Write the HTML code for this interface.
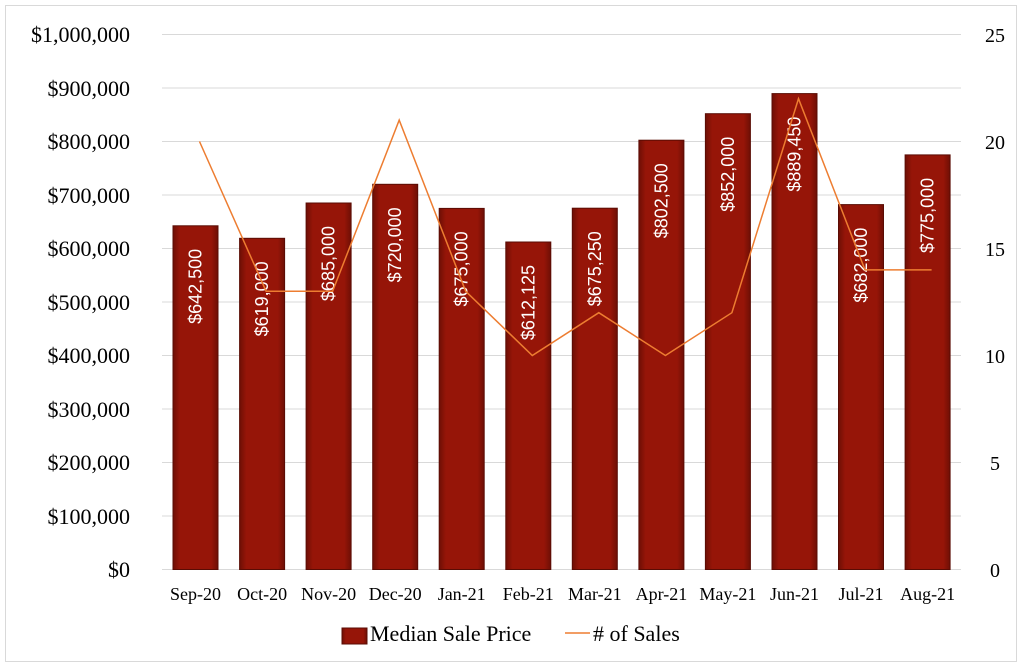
<!DOCTYPE html>
<html><head><meta charset="utf-8"><style>
html,body{margin:0;padding:0;background:#fff;width:1024px;height:670px;overflow:hidden}
</style></head><body>
<svg width="1024" height="670" xmlns="http://www.w3.org/2000/svg">
<defs>
<linearGradient id="bg" x1="0" y1="0" x2="1" y2="0">
<stop offset="0" stop-color="#6e0f05"/><stop offset="0.15" stop-color="#961508"/><stop offset="0.85" stop-color="#961508"/><stop offset="1" stop-color="#6e0f05"/>
</linearGradient>
</defs>
<rect x="5.5" y="5.5" width="1011" height="656" fill="#fff" stroke="#d9d9d9" stroke-width="1"/>
<g stroke="#d9d9d9" stroke-width="1">
<line x1="162" x2="961" y1="34.5" y2="34.5"/>
<line x1="162" x2="961" y1="88" y2="88"/>
<line x1="162" x2="961" y1="141.5" y2="141.5"/>
<line x1="162" x2="961" y1="195" y2="195"/>
<line x1="162" x2="961" y1="248.5" y2="248.5"/>
<line x1="162" x2="961" y1="302" y2="302"/>
<line x1="162" x2="961" y1="355.5" y2="355.5"/>
<line x1="162" x2="961" y1="409" y2="409"/>
<line x1="162" x2="961" y1="462.5" y2="462.5"/>
<line x1="162" x2="961" y1="516" y2="516"/>
<line x1="162" x2="961" y1="569.5" y2="569.5"/>
</g>
<g font-family="Liberation Serif, serif" font-size="22" fill="#000" text-anchor="end">
<text x="130" y="42">$1,000,000</text>
<text x="130" y="96">$900,000</text>
<text x="130" y="149">$800,000</text>
<text x="130" y="203">$700,000</text>
<text x="130" y="256">$600,000</text>
<text x="130" y="310">$500,000</text>
<text x="130" y="363">$400,000</text>
<text x="130" y="417">$300,000</text>
<text x="130" y="470">$200,000</text>
<text x="130" y="524">$100,000</text>
<text x="130" y="577">$0</text>
</g>
<g font-family="Liberation Serif, serif" font-size="20" fill="#000" text-anchor="middle">
<text x="995" y="42">25</text>
<text x="995" y="149">20</text>
<text x="995" y="256">15</text>
<text x="995" y="363">10</text>
<text x="995" y="470">5</text>
<text x="995" y="577">0</text>
</g>
<g stroke="#5a0c04" stroke-width="1" fill="url(#bg)">
<rect x="173" y="225.8" width="45" height="343.7"/>
<rect x="239.6" y="238.3" width="45" height="331.2"/>
<rect x="306.1" y="203" width="45" height="366.5"/>
<rect x="372.7" y="184.3" width="45" height="385.2"/>
<rect x="439.2" y="208.4" width="45" height="361.1"/>
<rect x="505.8" y="242" width="45" height="327.5"/>
<rect x="572.3" y="208.2" width="45" height="361.3"/>
<rect x="638.9" y="140.2" width="45" height="429.3"/>
<rect x="705.4" y="113.7" width="45" height="455.8"/>
<rect x="772" y="93.6" width="45" height="475.9"/>
<rect x="838.5" y="204.6" width="45" height="364.9"/>
<rect x="905.1" y="154.9" width="45" height="414.6"/>
</g>
<g font-family="Liberation Sans, sans-serif" font-size="18" fill="#fff" text-anchor="end">
<text transform="translate(201.5,248.8) rotate(-90)">$642,500</text>
<text transform="translate(268.1,261.3) rotate(-90)">$619,000</text>
<text transform="translate(334.6,226) rotate(-90)">$685,000</text>
<text transform="translate(401.2,207.3) rotate(-90)">$720,000</text>
<text transform="translate(467.7,231.4) rotate(-90)">$675,000</text>
<text transform="translate(534.3,265) rotate(-90)">$612,125</text>
<text transform="translate(600.8,231.2) rotate(-90)">$675,250</text>
<text transform="translate(667.4,163.2) rotate(-90)">$802,500</text>
<text transform="translate(733.9,136.7) rotate(-90)">$852,000</text>
<text transform="translate(800.5,116.6) rotate(-90)">$889,450</text>
<text transform="translate(867,227.6) rotate(-90)">$682,000</text>
<text transform="translate(933.6,177.9) rotate(-90)">$775,000</text>
</g>
<polyline fill="none" stroke="#ed7d31" stroke-width="1.5" points="199.5,141.5 266.1,291.3 332.6,291.3 399.2,120.1 465.7,291.3 532.3,355.5 598.8,312.7 665.4,355.5 731.9,312.7 798.5,98.7 865,269.9 931.6,269.9"/>
<g font-family="Liberation Serif, serif" font-size="18" fill="#000" text-anchor="middle">
<text x="195.5" y="600">Sep-20</text>
<text x="262.1" y="600">Oct-20</text>
<text x="328.6" y="600">Nov-20</text>
<text x="395.2" y="600">Dec-20</text>
<text x="461.7" y="600">Jan-21</text>
<text x="528.3" y="600">Feb-21</text>
<text x="594.8" y="600">Mar-21</text>
<text x="661.4" y="600">Apr-21</text>
<text x="727.9" y="600">May-21</text>
<text x="794.5" y="600">Jun-21</text>
<text x="861" y="600">Jul-21</text>
<text x="927.6" y="600">Aug-21</text>
</g>
<rect x="342" y="628" width="25" height="16" fill="url(#bg)" stroke="#5a0c04"/>
<text x="370" y="641" font-family="Liberation Serif, serif" font-size="22">Median Sale Price</text>
<line x1="565" x2="590" y1="633" y2="633" stroke="#ed7d31" stroke-width="1.5"/>
<text x="593" y="641" font-family="Liberation Serif, serif" font-size="22"># of Sales</text>
</svg>
</body></html>
